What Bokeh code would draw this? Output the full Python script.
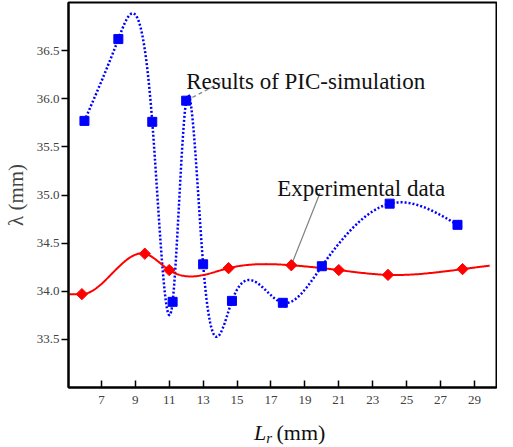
import numpy as np
from bokeh.plotting import figure
from bokeh.models import Range1d, FixedTicker, PrintfTickFormatter, Label, Div
from bokeh.layouts import column
from bokeh.embed import file_html
from bokeh.resources import INLINE

# ---- data ----
pic_x = [6, 8, 10, 11.2, 12, 13, 14.7, 17.7, 20, 24, 28]
pic_y = [35.77, 36.62, 35.76, 33.89, 35.98, 34.28, 33.90, 33.88, 34.26, 34.91, 34.69]
exp_x = [5.85, 9.56, 11, 14.5, 18.2, 21, 23.9, 28.3]
exp_y = [33.97, 34.39, 34.22, 34.24, 34.27, 34.22, 34.17, 34.23]
exp_curve_span = [5.06, 29.9]
x_ticks = [7, 9, 11, 13, 15, 17, 19, 21, 23, 25, 27, 29]
y_ticks = [33.5, 34.0, 34.5, 35.0, 35.5, 36.0, 36.5]
pic_label = "Results of PIC-simulation"
exp_label = "Experimental data"
pic_label_pos = [12.0, 36.18]
pic_leader_end = [14.17, 36.18]
exp_label_pos = [17.37, 35.07]
exp_leader_end = [19.89, 35.02]
exp_leader_point = 4  # index of the diamond the leader points to
pic_leader_point = 4


def cubic_spline(xs, ys, xe, start_slope=None):
    """Cubic spline; natural ends unless a start slope is given (clamped start)."""
    xs = np.asarray(xs, float)
    ys = np.asarray(ys, float)
    n = len(xs)
    h = np.diff(xs)
    A = np.zeros((n, n))
    b = np.zeros(n)
    if start_slope is None:
        A[0, 0] = 1
    else:
        A[0, 0] = 2 * h[0]
        A[0, 1] = h[0]
        b[0] = 6 * ((ys[1] - ys[0]) / h[0] - start_slope)
    A[-1, -1] = 1
    for i in range(1, n - 1):
        A[i, i - 1] = h[i - 1]
        A[i, i] = 2 * (h[i - 1] + h[i])
        A[i, i + 1] = h[i]
        b[i] = 6 * ((ys[i + 1] - ys[i]) / h[i] - (ys[i] - ys[i - 1]) / h[i - 1])
    M = np.linalg.solve(A, b)
    xe = np.asarray(xe, float)
    idx = np.clip(np.searchsorted(xs, xe) - 1, 0, n - 2)
    x0, x1 = xs[idx], xs[idx + 1]
    hh = x1 - x0
    y0, y1 = ys[idx], ys[idx + 1]
    m0, m1 = M[idx], M[idx + 1]
    out = (m0 * (x1 - xe) ** 3 / (6 * hh) + m1 * (xe - x0) ** 3 / (6 * hh)
           + (y0 / hh - m0 * hh / 6) * (x1 - xe) + (y1 / hh - m1 * hh / 6) * (xe - x0))
    if start_slope is not None:
        out = np.where(xe < xs[0], ys[0] + start_slope * (xe - xs[0]), out)
    return out


p = figure(width=497, height=411, output_backend="svg", toolbar_location=None,
           x_range=Range1d(5.06, 30.3), y_range=Range1d(33.0, 37.0),
           min_border_left=62, min_border_right=1, min_border_top=2, min_border_bottom=24)
p.grid.visible = False
p.outline_line_color = "black"
p.outline_line_width = 2
p.background_fill_color = "white"
p.border_fill_color = "white"

for ax in (p.xaxis[0], p.yaxis[0]):
    ax.axis_line_width = 2
    ax.axis_line_color = "black"
    ax.major_tick_line_width = 1.5
    ax.major_tick_line_color = "black"
    ax.minor_tick_line_color = None
    ax.major_label_text_font = "Liberation Serif"
    ax.major_label_text_font_size = "13px"
    ax.major_label_text_color = "#404040"

p.xaxis.ticker = FixedTicker(ticks=x_ticks)
p.xaxis.major_tick_in = 7
p.xaxis.major_tick_out = 0
p.xaxis.major_label_standoff = 8

p.yaxis.ticker = FixedTicker(ticks=y_ticks)
p.yaxis.formatter = PrintfTickFormatter(format="%.1f")
p.yaxis.major_tick_in = 0
p.yaxis.major_tick_out = 7
p.yaxis.major_label_standoff = 2
p.yaxis.axis_label = "λ (mm)"
p.yaxis.axis_label_text_font = "Liberation Serif"
p.yaxis.axis_label_text_font_size = "21px"
p.yaxis.axis_label_text_font_style = "normal"
p.yaxis.axis_label_standoff = 6

# curves
xe_pic = np.linspace(pic_x[0], pic_x[-1], 600)
p.line(xe_pic, cubic_spline(pic_x, pic_y, xe_pic), line_color="#0000ff",
       line_width=2.5, line_dash="2 2")
xe_exp = np.linspace(exp_curve_span[0], exp_curve_span[1], 400)
p.line(xe_exp, cubic_spline(exp_x, exp_y, xe_exp, start_slope=0.0),
       line_color="#ff0000", line_width=2)

# leader lines
p.line([pic_x[pic_leader_point], pic_leader_end[0]], [pic_y[pic_leader_point], pic_leader_end[1]],
       line_color="#8c8c8c", line_width=1.5, line_dash="4 3")
p.line([exp_x[exp_leader_point], exp_leader_end[0]], [exp_y[exp_leader_point], exp_leader_end[1]],
       line_color="#808080", line_width=1.2)

# markers
p.scatter(pic_x, pic_y, marker="square", size=9, fill_color="#0000ff", line_color="#0000ff")
p.scatter(exp_x, exp_y, marker="square", size=8, angle=np.pi / 4,
          fill_color="#ff0000", line_color="#ff0000")

# annotation texts
for txt, pos in ((pic_label, pic_label_pos), (exp_label, exp_label_pos)):
    p.add_layout(Label(x=pos[0], y=pos[1], text=txt, text_font="Liberation Serif",
                       text_font_size="23px", text_color="#111111",
                       text_baseline="alphabetic"))

# x axis label (italic L with subscript r) as HTML below the figure
xlabel = Div(
    text='<span style="position:relative;top:7px"><span style="font-style:italic">L<span style="font-size:15px;position:relative;top:3px">r</span></span>&#8201;(mm)</span>',
    width=497, height=20,
    styles={"font-family": "Liberation Serif", "font-size": "22px", "line-height": "20px",
            "padding-left": "249px", "white-space": "nowrap", "color": "#111111",
            "overflow": "visible"})

layout = column(p, xlabel, spacing=0)
open("out.html", "w").write(file_html(layout, INLINE))
